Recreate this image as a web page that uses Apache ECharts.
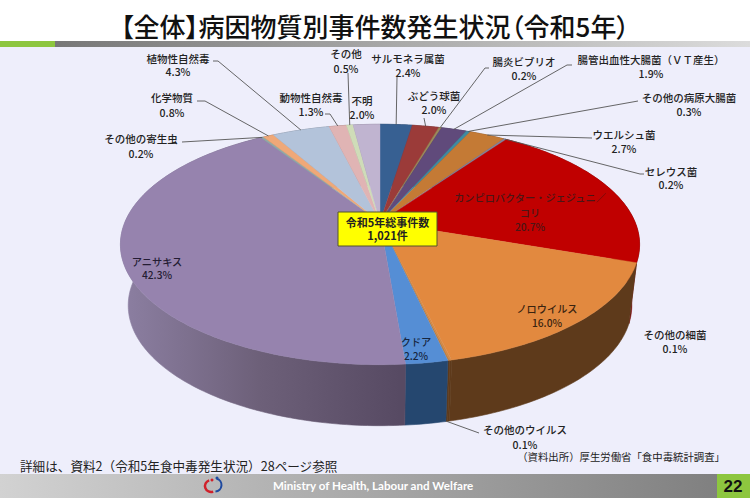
<!DOCTYPE html>
<html><head><meta charset="utf-8">
<style>html,body{margin:0;padding:0;background:#fff}#c{width:750px;height:500px}
svg text[style*="26px"],svg text[style*="12.6px"],svg text[style*="10.4px"],svg text[style*="10.2px"]{font-feature-settings:"palt" 1}
</style>
<script src="https://cdn.jsdelivr.net/npm/echarts@6/dist/echarts.min.js"></script>
</head><body><div id="c"></div>
<script>
const categories = ['サルモネラ属菌','ぶどう球菌','腸炎ビブリオ','腸管出血性大腸菌（ＶＴ産生）','その他の病原大腸菌','ウエルシュ菌','セレウス菌','カンピロバクター・ジェジュニ／コリ','ノロウイルス','その他の細菌','その他のウイルス','クドア','アニサキス','その他の寄生虫','化学物質','植物性自然毒','動物性自然毒','その他','不明'];
const values = [2.4,2.0,0.2,1.9,0.3,2.7,0.2,20.7,16.0,0.1,0.1,2.2,42.3,0.2,0.8,4.3,1.3,0.5,2.0];
const topColors = ['#376092','#9b3b39','#9a8a5a','#604a7b','#3f8aa0','#c47a35','#85809a','#c00000','#e2893f','#d98a45','#c2803f','#558ed5','#9683ae','#8fa8a8','#efa878','#b3c3da','#e0b4b4','#cfdcb8','#c0b4d0'];
const wallColors = ['#263f60','#602422','#5a5030','#3c2e4e','#28586a','#7a4c20','#55506a','#7a0a0a','#5e3a1b','#5e3a1b','#5e3a1b','#25476f',null,'#5a4d68','#9a6c4c','#76808f','#8f7272','#85907a','#7a7288'];
const totalLabel = ['令和5年総事件数','1,021件'];
const titleText = '【全体】病因物質別事件数発生状況（令和5年）';

// layout (pixels), kept apart from the data
const G = {cx:380, cy:222, rx:255, ry:116, k:0.187, depth:61, shrink:0.97};
const labelLayout = {
  'サルモネラ属菌':{x:408,y:[58,72],line:[[397,77]]},
  'ぶどう球菌':{x:434,y:[95,109],line:[[424,118]]},
  '腸炎ビブリオ':{x:524,y:[61,75],line:[[489,68],[485,68]]},
  '腸管出血性大腸菌（ＶＴ産生）':{x:651,y:[59,73],line:[[572,65],[567,65]]},
  'その他の病原大腸菌':{x:689,y:[97,111],line:[[638,101]]},
  'ウエルシュ菌':{x:624,y:[134,148],line:[[592,138]]},
  'セレウス菌':{x:671,y:[171,184],line:[[644,174],[640,174]]},
  'カンピロバクター・ジェジュニ／コリ':{x:530,y:[197,212,226],lines:['カンピロバクター・ジェジュニ／','コリ'],color:'#4a1616',inside:true},
  'ノロウイルス':{x:547,y:[308,322],color:'#3a2410',inside:true},
  'その他の細菌':{x:675,y:[334,348]},
  'その他のウイルス':{x:525,y:[429,444],line:[[479,433]],wall:true},
  'クドア':{x:416,y:[341,355],color:'#17263f',inside:true},
  'アニサキス':{x:157,y:[261,274],color:'#241c33',inside:true},
  'その他の寄生虫':{x:141,y:[138,153],line:[[182,142]]},
  '化学物質':{x:172,y:[97,112],line:[[197,101],[205,101]]},
  '植物性自然毒':{x:178,y:[58,71],line:[[213,61],[218,61]]},
  '動物性自然毒':{x:311,y:[97,111],line:[[325,114],[330,114]]},
  'その他':{x:346,y:[53,68],line:[[348,73]]},
  '不明':{x:362,y:[100,114]}
};

const starts = []; let acc = 0;
const total = values.reduce((a,b)=>a+b,0);
values.forEach(v=>{starts.push(acc); acc+=v;});
function proj(t){ // t = clockwise angle from top, radians
  const X=Math.sin(t), Y=Math.cos(t), s=1/(1+G.k*Y);
  return [G.cx+G.rx*X*s, G.cy-G.ry*Y*s];
}
function down(p){ return [G.cx+(p[0]-G.cx)*G.shrink, p[1]+G.depth]; }
function arc(i){
  const a0=starts[i]/total*2*Math.PI, a1=(starts[i]+values[i])/total*2*Math.PI;
  const n=Math.max(2,Math.ceil((a1-a0)/(Math.PI/180))), pts=[];
  for(let j=0;j<=n;j++) pts.push(proj(a0+(a1-a0)*j/n));
  return pts;
}
const data = categories.map((c,i)=>({name:c,value:values[i]}));
const purpleWall={type:'linear',x:118,y:0,x2:400,y2:0,global:true,colorStops:[{offset:0,color:'#8d80a3'},{offset:.5,color:'#6d6079'},{offset:1,color:'#574a63'}]};

function renderWall(p,api){
  const i=p.dataIndex, a=arc(i);
  const pts=a.concat(a.slice().reverse().map(down));
  const f=wallColors[i]||purpleWall;
  return {type:'polygon',shape:{points:pts},style:{fill:f,stroke:f,lineWidth:.6}};
}
function renderTop(p,api){
  const i=p.dataIndex;
  const pts=[[G.cx,G.cy]].concat(arc(i));
  return {type:'polygon',shape:{points:pts},style:{fill:topColors[i],stroke:topColors[i],lineWidth:.4}};
}
const FONT='"Noto Sans CJK JP","Noto Sans",sans-serif';
function renderLabel(p,api){
  const i=p.dataIndex, name=categories[i], L=labelLayout[name], kids=[];
  if(L.line){
    const mid=(starts[i]+values[i]/2)/total*2*Math.PI;
    let rim=proj(mid); if(L.wall) rim=down(rim);
    kids.push({type:'polyline',shape:{points:L.line.concat([rim])},style:{fill:'none',stroke:'#555',lineWidth:.9}});
  }
  const lines=(L.lines||[name]).concat([values[i].toFixed(1)+'%']);
  lines.forEach((t,j)=>kids.push({type:'text',style:{text:t,x:L.x,y:L.y[j],align:'center',verticalAlign:'middle',
    font:'500 '+(L.inside?'10.2px ':'10.5px ')+FONT,fill:L.color||'#222'}}));
  return {type:'group',children:kids};
}

const chart=echarts.init(document.getElementById('c'),null,{renderer:'svg'});
chart.setOption({
  animation:false,
  backgroundColor:'#eeeefb',
  title:{text:titleText,left:'center',top:7,textStyle:{fontFamily:FONT,fontSize:26,fontWeight:500,color:'#111'}},
  graphic:[
    {type:'rect',z:-5,shape:{x:0,y:0,width:750,height:41},style:{fill:'#fff'}},
    {type:'rect',z:-4,shape:{x:0,y:41,width:750,height:6},style:{fill:{type:'linear',x:0,y:0,x2:1,y2:0,colorStops:[{offset:0,color:'#6f6f6f'},{offset:1,color:'#dcdcdc'}]}}},
    {type:'rect',z:-3,shape:{x:0,y:41,width:55,height:6},style:{fill:'#8dc63f'}},
    {type:'rect',z:-5,shape:{x:0,y:474,width:750,height:26},style:{fill:'#fff'}},
    {type:'rect',z:-4,shape:{x:0,y:474,width:717,height:24},style:{fill:{type:'linear',x:0,y:0,x2:1,y2:0,colorStops:[{offset:0,color:'#d2d2d2'},{offset:1,color:'#808080'}]}}},
    {type:'rect',z:-4,shape:{x:717,y:474,width:33,height:24},style:{fill:'#8dc63f'}},
    {type:'text',z:10,style:{text:'22',x:733,y:486,align:'center',verticalAlign:'middle',font:'bold 17px "Liberation Sans",sans-serif',fill:'#111'}},
    {type:'text',z:10,style:{text:'Ministry of Health, Labour and Welfare',x:273,y:485,align:'left',verticalAlign:'middle',font:'bold 11.6px Lato,sans-serif',fill:'#fff'}},
    {type:'arc',z:10,shape:{cx:211,cy:486,r:6,startAngle:1.2,endAngle:4.4},style:{fill:'none',stroke:'#d0202a',lineWidth:2.4}},
    {type:'arc',z:10,shape:{cx:215,cy:485,r:6.5,startAngle:-1.3,endAngle:1.5},style:{fill:'none',stroke:'#1f4aa0',lineWidth:2}},
    {type:'circle',z:10,shape:{cx:212,cy:480,r:1.5},style:{fill:'#d0202a'}},
    {type:'circle',z:10,shape:{cx:217,cy:478,r:1.5},style:{fill:'#1f4aa0'}},
    {type:'text',z:10,style:{text:'詳細は、資料2（令和5年食中毒発生状況）28ページ参照',x:20,y:465,align:'left',verticalAlign:'middle',font:'12.6px '+FONT,fill:'#222'}},
    {type:'text',z:10,style:{text:'（資料出所）厚生労働省「食中毒統計調査」',x:725,y:456,align:'right',verticalAlign:'middle',font:'10.4px '+FONT,fill:'#222'}},
    {type:'rect',z:100,shape:{x:338,y:212,width:99,height:34},style:{fill:'#ffff00',stroke:'#55552a',lineWidth:1}},
    {type:'text',z:101,style:{text:totalLabel[0],x:387.5,y:222,align:'center',verticalAlign:'middle',font:'bold 11px '+FONT,fill:'#222'}},
    {type:'text',z:101,style:{text:totalLabel[1],x:387.5,y:235,align:'center',verticalAlign:'middle',font:'bold 11px '+FONT,fill:'#222'}}
  ],
  series:[
    {type:'custom',coordinateSystem:'none',name:'側面',z:2,data:data,renderItem:renderWall,silent:true},
    {type:'custom',coordinateSystem:'none',name:'病因物質',z:3,data:data,renderItem:renderTop,silent:true},
    {type:'custom',coordinateSystem:'none',name:'ラベル',z:4,data:data,renderItem:renderLabel,silent:true}
  ]
});
</script></body></html>
